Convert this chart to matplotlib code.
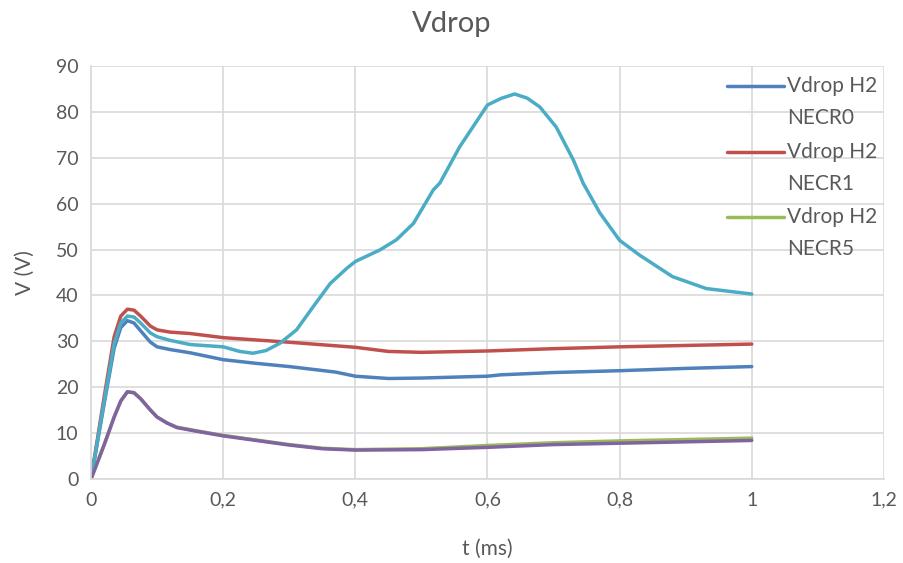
import matplotlib
matplotlib.use("Agg")
import matplotlib.pyplot as plt
from matplotlib.lines import Line2D
from matplotlib.ticker import FuncFormatter

# --- data (t in ms, V in volts) ---
t_necr0 = [0, 0.02, 0.035, 0.045, 0.055, 0.065, 0.075, 0.09, 0.1, 0.12, 0.15, 0.2, 0.25, 0.3, 0.37, 0.4,
           0.45, 0.5, 0.6, 0.62, 0.7, 0.8, 0.9, 1.0]
v_necr0 = [0, 16.5, 28.5, 33.0, 34.5, 34.0, 32.3, 29.8, 28.8, 28.2, 27.5, 26.0, 25.2, 24.5, 23.3, 22.4,
           21.9, 22.0, 22.4, 22.7, 23.2, 23.6, 24.1, 24.5]

t_necr1 = [0, 0.02, 0.035, 0.045, 0.055, 0.065, 0.075, 0.09, 0.1, 0.12, 0.15, 0.2, 0.3, 0.4, 0.45, 0.5,
           0.6, 0.7, 0.8, 0.9, 1.0]
v_necr1 = [0, 18.0, 31.0, 35.5, 37.0, 36.8, 35.5, 33.3, 32.5, 32.0, 31.7, 30.8, 29.8, 28.7, 27.8, 27.6,
           27.9, 28.4, 28.8, 29.1, 29.4]

t_cyan = [0, 0.02, 0.035, 0.045, 0.055, 0.065, 0.075, 0.09, 0.1, 0.12, 0.15, 0.2, 0.225, 0.245, 0.265,
          0.286, 0.311, 0.336, 0.362, 0.387, 0.4, 0.437, 0.462, 0.488, 0.518, 0.528, 0.558, 0.6, 0.62,
          0.641, 0.66, 0.679, 0.704, 0.73, 0.745, 0.77, 0.8, 0.83, 0.88, 0.931, 1.0]
v_cyan = [0, 17.0, 29.5, 34.0, 35.5, 35.3, 34.0, 31.8, 31.0, 30.2, 29.3, 28.8, 27.8, 27.4, 28.0,
          29.6, 32.5, 37.5, 42.6, 45.9, 47.4, 49.9, 52.1, 55.7, 63.0, 64.5, 72.4, 81.5, 82.9,
          83.9, 83.0, 81.1, 76.7, 69.5, 64.4, 58.0, 52.0, 48.8, 44.1, 41.5, 40.3]

t_low = [0, 0.02, 0.035, 0.045, 0.055, 0.065, 0.075, 0.09, 0.1, 0.115, 0.13, 0.16, 0.2, 0.3, 0.35, 0.4,
         0.5, 0.6, 0.7, 0.8, 0.9, 1.0]
v_necr5 = [0, 7.5, 13.5, 17.0, 19.0, 18.8, 17.5, 15.0, 13.5, 12.2, 11.3, 10.5, 9.5, 7.5, 6.7, 6.4,
           6.6, 7.3, 7.9, 8.3, 8.6, 8.9]
v_purple = [0, 7.5, 13.5, 17.0, 19.0, 18.8, 17.5, 15.0, 13.5, 12.2, 11.2, 10.4, 9.4, 7.4, 6.6, 6.3,
            6.4, 6.9, 7.5, 7.8, 8.1, 8.4]

series = [
    (t_necr0, v_necr0, "#4F81BD", "Vdrop H2\nNECR0"),
    (t_necr1, v_necr1, "#C0504D", "Vdrop H2\nNECR1"),
    (t_cyan, v_cyan, "#4BACC6", None),
    (t_low, v_necr5, "#9BBB59", "Vdrop H2\nNECR5"),
    (t_low, v_purple, "#8064A2", None),
]

plt.rcParams["font.family"] = ["Lato", "DejaVu Sans"]
text_color = "#595959"
grid_color = "#D9D9D9"

fig = plt.figure(figsize=(9.04, 5.63), dpi=100)
ax = fig.add_axes([0.1007, 0.1492, 0.8771, 0.7336])

for t, v, color, label in series:
    ax.plot(t, v, color=color, linewidth=2.5, solid_capstyle="round", solid_joinstyle="round")

ax.set_xlim(0, 1.2)
ax.set_ylim(0, 90)
ax.set_xticks([0, 0.2, 0.4, 0.6, 0.8, 1.0, 1.2])
ax.set_yticks(range(0, 91, 10))
ax.xaxis.set_major_formatter(FuncFormatter(lambda x, p: ("%g" % round(x, 1)).replace(".", ",")))
ax.grid(True, color=grid_color, linewidth=1.2)
ax.set_axisbelow(True)
ax.tick_params(length=0, labelsize=14, colors=text_color, pad=9)
for side in ["top", "right"]:
    ax.spines[side].set_visible(False)
for side in ["left", "bottom"]:
    ax.spines[side].set_color(grid_color)
    ax.spines[side].set_linewidth(1.2)

ax.set_xlabel("t (ms)", fontsize=15, color=text_color, labelpad=22)
ax.set_ylabel("V (V)", fontsize=15, color=text_color, labelpad=15)
fig.text(0.5, 0.958, "Vdrop", ha="center", va="center", fontsize=21, color=text_color)

# --- legend: Excel shows only three entries, handle on the first text line ---
y0 = 1 - 86 / 563
step = 65.5 / 563
i = 0
for t, v, color, label in series:
    if label is None:
        continue
    y = y0 - i * step
    fig.add_artist(Line2D([727 / 904, 784 / 904], [y, y], color=color, linewidth=2.5,
                          solid_capstyle="round", transform=fig.transFigure))
    fig.text(787 / 904, y + 10 / 563, label, ha="left", va="top", fontsize=15,
             color=text_color, linespacing=1.75)
    i += 1

fig.savefig("out.png", dpi=100)
